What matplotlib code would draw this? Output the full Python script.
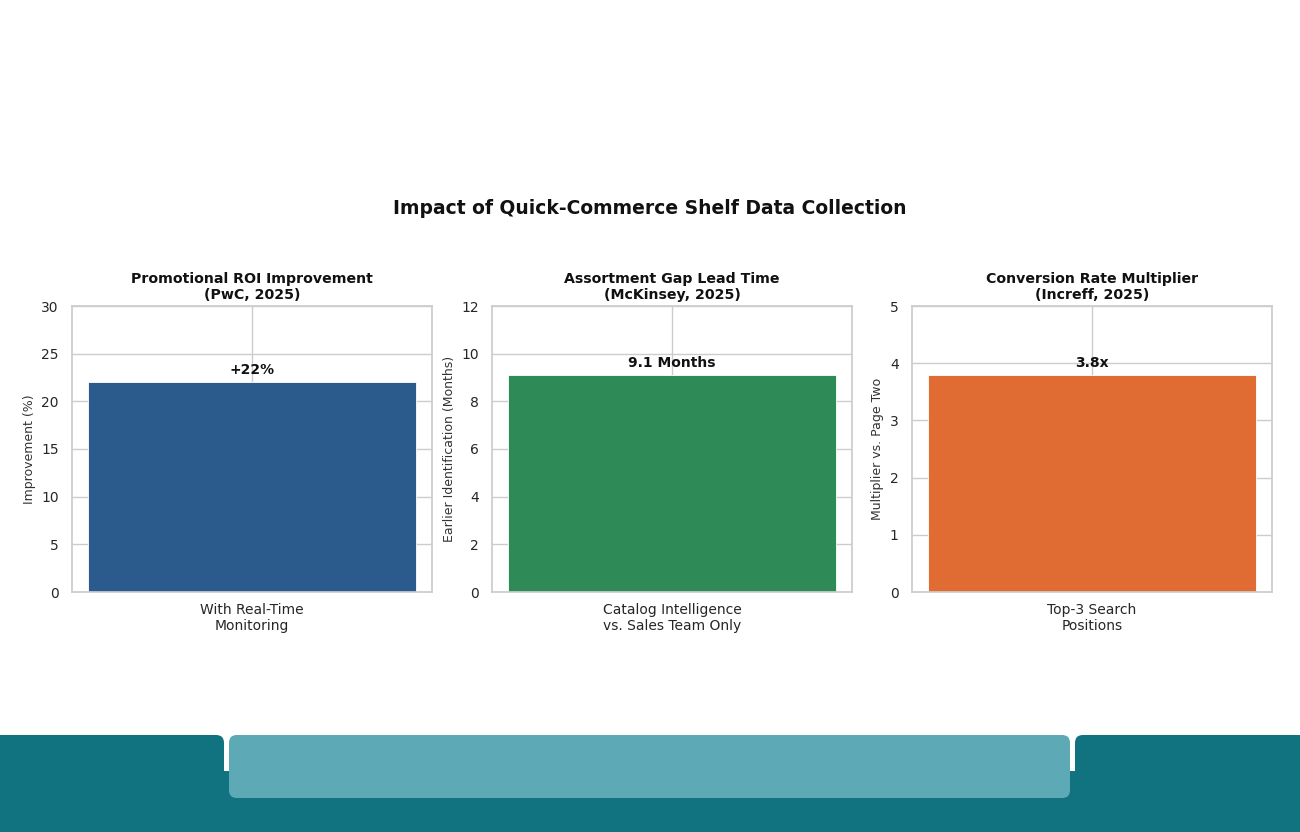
import matplotlib
matplotlib.use("Agg")
import matplotlib.pyplot as plt
import seaborn as sns
from matplotlib.patches import FancyBboxPatch, Rectangle

sns.set_theme(style="whitegrid")
plt.rcParams['font.family'] = ['DejaVu Sans']

# data
titles = ["Promotional ROI Improvement\n(PwC, 2025)",
          "Assortment Gap Lead Time\n(McKinsey, 2025)",
          "Conversion Rate Multiplier\n(Increff, 2025)"]
categories = ["With Real-Time\nMonitoring",
              "Catalog Intelligence\nvs. Sales Team Only",
              "Top-3 Search\nPositions"]
values = [22, 9.1, 3.8]
bar_labels = ["+22%", "9.1 Months", "3.8x"]
ylabels = ["Improvement (%)", "Earlier Identification (Months)", "Multiplier vs. Page Two"]
ymax = [30, 12, 5]
colors = ["#2B5B8C", "#2E8B57", "#E06C34"]

W, H = 1300, 832
fig = plt.figure(figsize=(13, 8.32), dpi=100)

lefts = [72, 492, 912]
for i in range(3):
    ax = fig.add_axes([lefts[i] / W, 1 - 592 / H, 360 / W, 286 / H])
    ax.bar([0], [values[i]], width=0.6, color=colors[i], edgecolor="white", linewidth=0.6)
    ax.set_xticks([0])
    ax.set_xticklabels([categories[i]], fontsize=10)
    ax.tick_params(axis="x", pad=2)
    ax.set_ylim(0, ymax[i])
    ax.tick_params(axis="y", labelsize=10)
    ax.set_ylabel(ylabels[i], fontsize=9, color="#333333")
    ax.set_title(titles[i], fontsize=10.2, fontweight="bold", pad=5, color="#111111")
    ax.annotate(bar_labels[i], (0, values[i]), xytext=(0, 3.5), textcoords="offset points",
                ha="center", va="bottom", fontsize=10, fontweight="bold", color="#111111")

fig.text(0.5, 1 - 208 / H, "Impact of Quick-Commerce Shelf Data Collection",
         ha="center", va="center", fontsize=13.5, fontweight="bold", color="#111111")

# footer decoration
dark = "#11737F"
light = "#5DAAB6"
def px(x, y):
    return x / W, 1 - y / H

fig.patches.append(Rectangle(px(0, 832), 1, (832 - 771) / H, transform=fig.transFigure,
                             facecolor=dark, edgecolor="none"))
for x0, x1 in [(0, 224), (1075, 1300)]:
    fig.patches.append(FancyBboxPatch(px(x0, 832), (x1 - x0) / W, (832 - 735) / H,
                                      boxstyle="round,pad=0,rounding_size=0.006",
                                      transform=fig.transFigure, facecolor=dark, edgecolor="none",
                                      mutation_aspect=W / H))
# square outer corners at the figure edges
fig.patches.append(Rectangle(px(0, 832), 100 / W, (832 - 735) / H, transform=fig.transFigure,
                             facecolor=dark, edgecolor="none"))
fig.patches.append(Rectangle(px(1200, 832), 100 / W, (832 - 735) / H, transform=fig.transFigure,
                             facecolor=dark, edgecolor="none"))
fig.patches.append(FancyBboxPatch(px(229, 798), (1070 - 229) / W, (798 - 735) / H,
                                  boxstyle="round,pad=0,rounding_size=0.006",
                                  transform=fig.transFigure, facecolor=light, edgecolor="none",
                                  mutation_aspect=W / H))

fig.savefig("out.png", dpi=100)
